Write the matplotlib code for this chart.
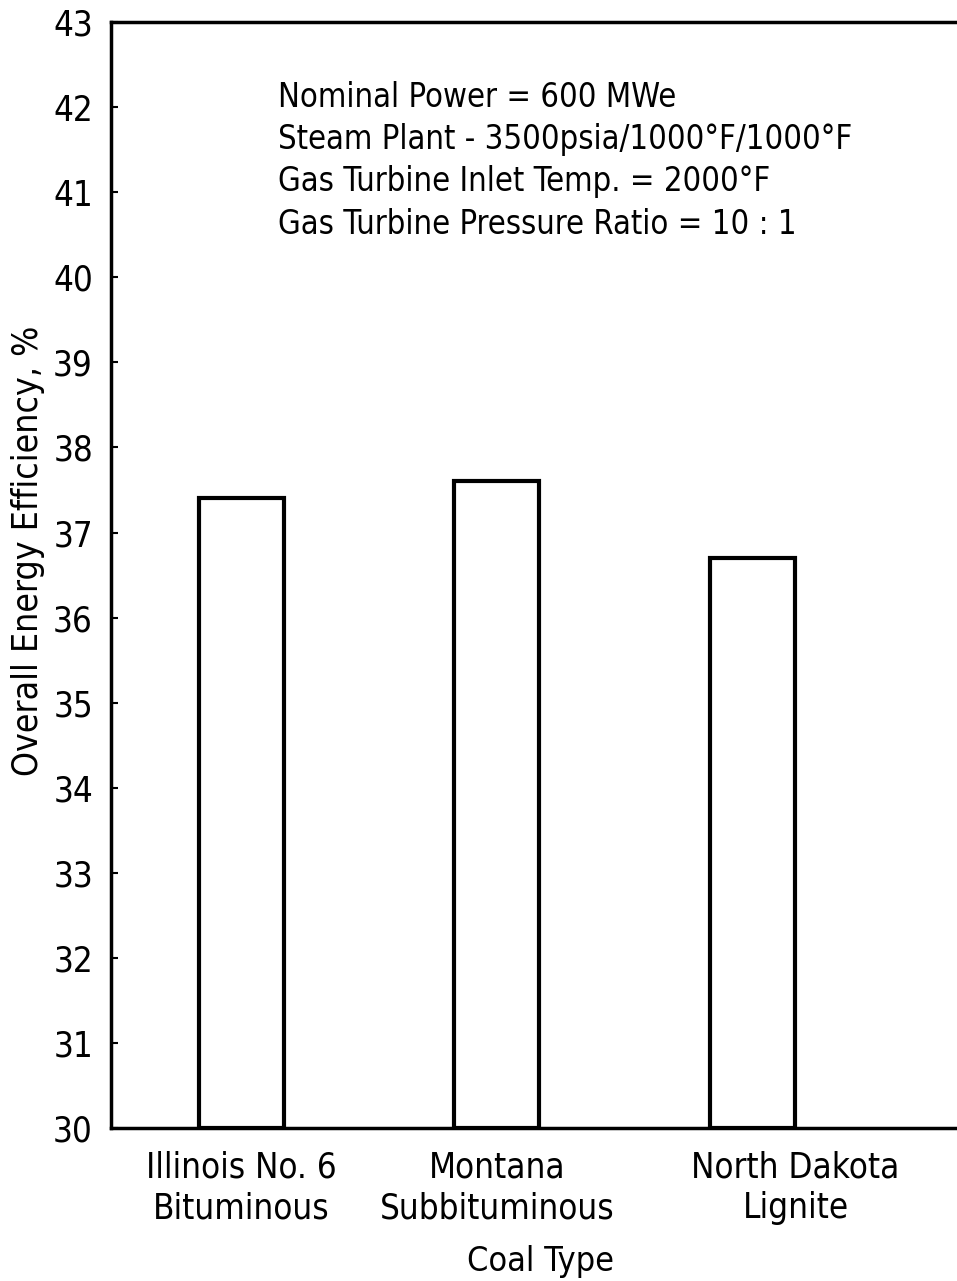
import matplotlib
matplotlib.use("Agg")
import matplotlib.pyplot as plt
import matplotlib.transforms as mtransforms

categories = ["Illinois No. 6\nBituminous", "Montana\nSubbituminous", "North Dakota\nLignite"]
efficiency = [37.4, 37.6, 36.7]
yticks = list(range(30, 44))
notes = ["Nominal Power = 600 MWe",
         "Steam Plant - 3500psia/1000\u00b0F/1000\u00b0F",
         "Gas Turbine Inlet Temp. = 2000\u00b0F",
         "Gas Turbine Pressure Ratio = 10 : 1"]

plt.rcParams['font.family'] = ["DejaVu Sans"]
plt.rcParams['font.stretch'] = 'condensed'

fig = plt.figure(figsize=(9.57, 12.81), dpi=100)
ax = fig.add_axes([0.116, 0.1194, 0.884, 0.8634])

xs = list(range(len(categories)))
ax.bar(xs, [v - 30 for v in efficiency], bottom=30, width=0.333,
       facecolor='white', edgecolor='black', linewidth=3.0)

ax.set_xlim(-0.509, 2.80)
ax.set_ylim(30, 43)
ax.set_yticks(yticks)
ax.set_yticklabels([str(t) for t in yticks], fontsize=25)
ax.tick_params(axis='y', direction='in', length=5, width=1.5, pad=13)
ax.set_xticks(xs)
ax.set_xticklabels(categories, fontsize=25, linespacing=1.25)
ax.tick_params(axis='x', length=0, pad=16)
lbl = ax.get_xticklabels()[2]
lbl.set_transform(lbl.get_transform() + mtransforms.ScaledTranslation(0.43, 0, fig.dpi_scale_trans))

for s in ['left', 'top', 'bottom']:
    ax.spines[s].set_linewidth(2.5)
ax.spines['right'].set_visible(False)

ax.set_ylabel("Overall Energy Efficiency, %", fontsize=25.5)
ax.yaxis.set_label_coords(-0.078, 0.522)
ax.set_xlabel("Coal Type", fontsize=24.5)
ax.xaxis.set_label_coords(0.508, -0.106)

for i, line in enumerate(notes):
    ax.text(0.197, 0.932 - i * 0.0383, line, transform=ax.transAxes,
            fontsize=23.5, va='center', ha='left')

fig.savefig("out.png", dpi=100)
